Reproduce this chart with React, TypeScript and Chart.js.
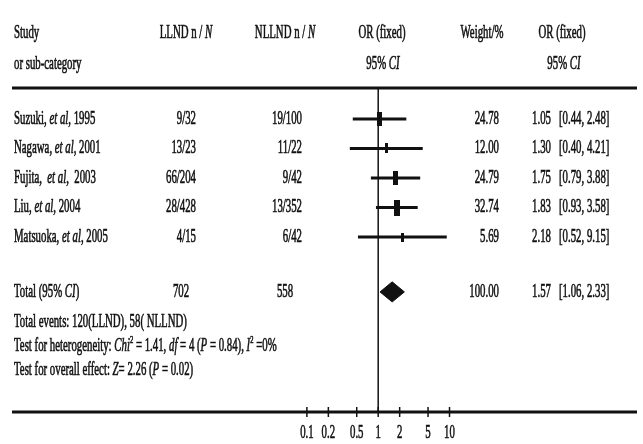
import { useEffect, useRef } from "react";
import { Chart, registerables } from "chart.js";

Chart.register(...registerables);

// ---------- data ----------
const STUDIES = [
  "Suzuki, *et al*, 1995",
  "Nagawa, *et al*, 2001",
  "Fujita,  *et al*,  2003",
  "Liu, *et al*, 2004",
  "Matsuoka, *et al*, 2005",
];
const LLND_EVENTS = [9, 13, 66, 28, 4];
const LLND_TOTAL = [32, 23, 204, 428, 15];
const NLLND_EVENTS = [19, 11, 9, 13, 6];
const NLLND_TOTAL = [100, 22, 42, 352, 42];
const WEIGHTS = [24.78, 12.0, 24.79, 32.74, 5.69];
const OR_VALUES = [1.05, 1.3, 1.75, 1.83, 2.18];
const CI_LOW = [0.44, 0.4, 0.79, 0.93, 0.52];
const CI_HIGH = [2.48, 4.21, 3.88, 3.58, 9.15];

const TOTAL_LLND = 702;
const TOTAL_NLLND = 558;
const TOTAL_WEIGHT = 100.0;
const TOTAL_OR = 1.57;
const TOTAL_LOW = 1.06;
const TOTAL_HIGH = 2.33;

const FOOTER_LINES = [
  "Total events: 120(LLND), 58( NLLND)",
  "Test for heterogeneity: *Chi*^2^ = 1.41, *df* = 4 (*P* = 0.84), *I*^2^ =0%",
  "Test for overall effect: *Z*= 2.26 (*P* = 0.02)",
];

const TICK_VALUES = [0.1, 0.2, 0.5, 1, 2, 5, 10];
const TICK_LABELS = ["0.1", "0.2", "0.5", "1", "2", "5", "10"];

// ---------- layout / style ----------
const FONT = '"Liberation Serif", "Times New Roman", serif';
const FS = 18;
const SX = 0.6;
const INK = "#111";
const TOTAL_ROW = 5.86;
const FOOTER_ROWS = [6.88, 7.7, 8.5];

type Seg = { t: string; i: boolean; s: boolean };
function parse(str: string): Seg[] {
  const segs: Seg[] = [];
  let it = false;
  let sup = false;
  let cur = "";
  for (const ch of str) {
    if (ch === "*" || ch === "^") {
      if (cur) segs.push({ t: cur, i: it, s: sup });
      cur = "";
      if (ch === "*") it = !it;
      else sup = !sup;
    } else cur += ch;
  }
  if (cur) segs.push({ t: cur, i: it, s: sup });
  return segs;
}

function drawText(
  ctx: CanvasRenderingContext2D,
  str: string,
  x: number,
  y: number,
  align: "left" | "right" | "center" = "left",
  size = FS
) {
  const segs = parse(str);
  const fontOf = (g: Seg) =>
    `${g.i ? "italic " : ""}${g.s ? Math.round(size * 0.6) : size}px ${FONT}`;
  let w = 0;
  const ws = segs.map((g) => {
    ctx.font = fontOf(g);
    const m = ctx.measureText(g.t).width;
    w += m;
    return m;
  });
  ctx.save();
  ctx.translate(x, y);
  ctx.scale(SX, 1);
  ctx.fillStyle = INK;
  ctx.strokeStyle = INK;
  ctx.lineWidth = 0.6;
  ctx.textBaseline = "middle";
  ctx.textAlign = "left";
  let cx = align === "left" ? 0 : align === "right" ? -w : -w / 2;
  segs.forEach((g, k) => {
    ctx.font = fontOf(g);
    const ty = g.s ? -size * 0.35 : 0;
    ctx.fillText(g.t, cx, ty);
    ctx.strokeText(g.t, cx, ty);
    cx += ws[k];
  });
  ctx.restore();
}

const forestPlugin = {
  id: "forest",
  beforeDatasetsDraw(chart: any) {
    const { ctx, chartArea: a, scales } = chart;
    const x = scales.x;
    const seg = (x1: number, y1: number, x2: number, y2: number) => {
      ctx.beginPath();
      ctx.moveTo(x1, y1);
      ctx.lineTo(x2, y2);
      ctx.stroke();
    };
    ctx.save();
    ctx.strokeStyle = INK;
    ctx.lineWidth = 3;
    seg(a.left, a.top, a.right, a.top);
    seg(a.left, a.bottom, a.right, a.bottom);
    ctx.lineWidth = 1.5;
    const x1 = x.getPixelForValue(1);
    seg(x1, a.top, x1, a.bottom);
    TICK_VALUES.forEach((v) => {
      const px = x.getPixelForValue(v);
      seg(px, a.bottom - 5, px, a.bottom + 5);
    });
    ctx.restore();
  },
  afterDraw(chart: any) {
    const { ctx, chartArea: a, scales } = chart;
    const x = scales.x;
    const y = scales.y;
    // header
    const h1 = a.top - 55;
    const h2 = a.top - 24;
    drawText(ctx, "Study", 14, h1);
    drawText(ctx, "or sub-category", 14, h2);
    drawText(ctx, "LLND n / *N*", 186, h1, "center");
    drawText(ctx, "NLLND n / *N*", 285, h1, "center");
    drawText(ctx, "OR (fixed)", 382, h1, "center");
    drawText(ctx, "95% *CI*", 383, h2, "center");
    drawText(ctx, "Weight/%", 482, h1, "center");
    drawText(ctx, "OR (fixed)", 562, h1, "center");
    drawText(ctx, "95% *CI*", 564, h2, "center");
    // rows
    STUDIES.forEach((name, i) => {
      const py = y.getPixelForValue(i);
      drawText(ctx, name, 14, py);
      drawText(ctx, `${LLND_EVENTS[i]}/${LLND_TOTAL[i]}`, 196, py, "right");
      drawText(ctx, `${NLLND_EVENTS[i]}/${NLLND_TOTAL[i]}`, 302, py, "right");
      drawText(ctx, WEIGHTS[i].toFixed(2), 499, py, "right");
      drawText(ctx, OR_VALUES[i].toFixed(2), 551, py, "right");
      drawText(ctx, `[${CI_LOW[i].toFixed(2)}, ${CI_HIGH[i].toFixed(2)}]`, 559, py, "left");
    });
    const ty = y.getPixelForValue(TOTAL_ROW);
    drawText(ctx, "Total (95% *CI*)", 14, ty);
    drawText(ctx, String(TOTAL_LLND), 181, ty, "center");
    drawText(ctx, String(TOTAL_NLLND), 285, ty, "center");
    drawText(ctx, TOTAL_WEIGHT.toFixed(2), 499, ty, "right");
    drawText(ctx, TOTAL_OR.toFixed(2), 551, ty, "right");
    drawText(ctx, `[${TOTAL_LOW.toFixed(2)}, ${TOTAL_HIGH.toFixed(2)}]`, 559, ty, "left");
    FOOTER_LINES.forEach((t, k) => {
      drawText(ctx, t, 14, y.getPixelForValue(FOOTER_ROWS[k]));
    });
    // tick labels
    TICK_VALUES.forEach((v, k) => {
      drawText(ctx, TICK_LABELS[k], x.getPixelForValue(v), a.bottom + 21, "center", 18);
    });
  },
};

export default function App() {
  const ref = useRef<HTMLCanvasElement | null>(null);
  useEffect(() => {
    if (!ref.current) return;
    const makeMark = (wt: number) => {
      const c = document.createElement("canvas");
      const w = Math.round(2 + wt * 0.12);
      const h = Math.round(7 + wt * 0.28);
      c.width = w;
      c.height = h;
      const g = c.getContext("2d")!;
      g.fillStyle = INK;
      g.fillRect(0, 0, w, h);
      return c;
    };
    const ciSets = STUDIES.map((_, i) => ({
      data: [
        { x: CI_LOW[i], y: i },
        { x: CI_HIGH[i], y: i },
      ],
      showLine: true,
      borderColor: INK,
      borderWidth: 3,
      pointRadius: 0,
      fill: false,
    }));
    const pointSet = {
      data: OR_VALUES.map((v, i) => ({ x: v, y: i })),
      showLine: false,
      pointStyle: WEIGHTS.map((w) => makeMark(w)),
      pointRadius: 5,
      backgroundColor: INK,
      borderColor: INK,
    };
    const dh = 0.34;
    const diamond = {
      data: [
        { x: TOTAL_LOW, y: TOTAL_ROW },
        { x: TOTAL_OR, y: TOTAL_ROW - dh },
        { x: TOTAL_HIGH, y: TOTAL_ROW },
        { x: TOTAL_OR, y: TOTAL_ROW + dh },
        { x: TOTAL_LOW, y: TOTAL_ROW },
      ],
      showLine: true,
      fill: "shape",
      backgroundColor: INK,
      borderColor: INK,
      borderWidth: 1,
      pointRadius: 0,
      tension: 0,
    };
    const chart = new Chart(ref.current, {
      type: "scatter",
      data: { datasets: [...ciSets, pointSet, diamond] as any },
      options: {
        animation: false,
        responsive: false,
        events: [],
        layout: { padding: { left: 12, right: 0, top: 88, bottom: 32 } },
        plugins: { legend: { display: false }, tooltip: { enabled: false } },
        scales: {
          x: {
            type: "logarithmic",
            display: false,
            bounds: "data",
            min: Math.pow(10, -5.135),
            max: Math.pow(10, 3.629),
          },
          y: {
            type: "linear",
            display: false,
            reverse: true,
            min: -1.05,
            max: 9.93,
          },
        },
      } as any,
      plugins: [forestPlugin],
    });
    return () => chart.destroy();
  }, []);
  return (
    <div style={{ position: "fixed", left: 0, top: 0, width: 643, height: 444, background: "#fff" }}>
      <canvas ref={ref} width={643} height={444} style={{ display: "block" }} />
    </div>
  );
}
